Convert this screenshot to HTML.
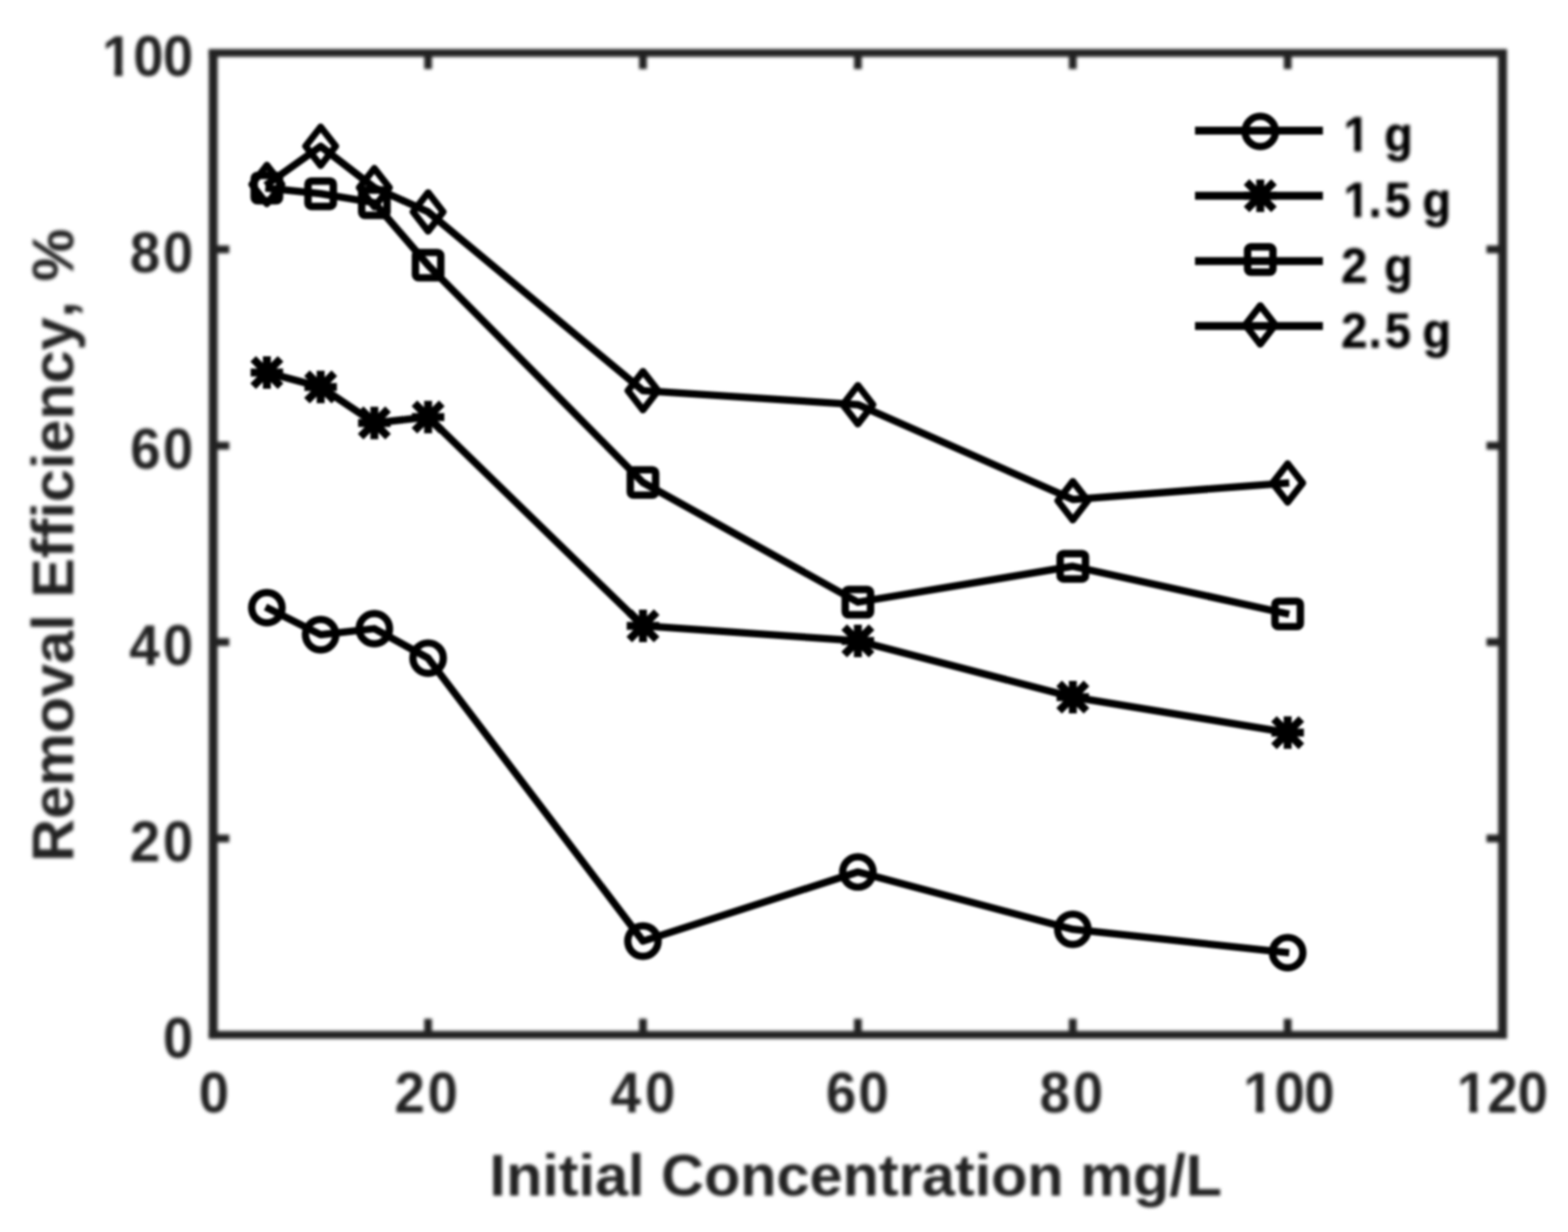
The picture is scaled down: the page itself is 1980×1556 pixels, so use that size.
<!DOCTYPE html>
<html lang="en">
<head>
<meta charset="utf-8">
<title>Removal Efficiency vs Initial Concentration</title>
<style>
html,body{margin:0;padding:0;background:#fff;}
body{width:1980px;height:1556px;overflow:hidden;}
svg{display:block;}
text{font-family:"Liberation Sans",sans-serif;font-weight:bold;}
.tk{font-size:73.1px;fill:#222222;}
.lb{font-size:75px;fill:#222222;}
.lg{font-size:63.2px;fill:#000;stroke:#000;stroke-width:0.6px;stroke-linejoin:round;}
</style>
</head>
<body>
<svg width="1980" height="1556" viewBox="0 0 1980 1556">
<defs>
<filter id="soft" x="0" y="0" width="1980" height="1556" filterUnits="userSpaceOnUse" color-interpolation-filters="sRGB"><feGaussianBlur stdDeviation="1.95"/></filter>
<filter id="crisp" x="0" y="0" width="1980" height="1556" filterUnits="userSpaceOnUse" color-interpolation-filters="sRGB"><feGaussianBlur stdDeviation="1.6"/></filter>
<filter id="softer" x="0" y="0" width="1980" height="1556" filterUnits="userSpaceOnUse" color-interpolation-filters="sRGB"><feGaussianBlur stdDeviation="2.0"/></filter>
</defs>
<rect width="1980" height="1556" fill="#fff"/>
<g filter="url(#soft)">
<g fill="#222222">
<rect x="263.60" y="62.00" width="11.2" height="1249.90"/>
<rect x="1891.80" y="62.00" width="11.2" height="1249.90"/>
<rect x="263.60" y="62.00" width="1639.40" height="9.8"/>
<rect x="263.60" y="1302.10" width="1639.40" height="9.8"/>
<rect x="535.67" y="66.90" width="9.8" height="20.3"/>
<rect x="535.67" y="1286.70" width="9.8" height="20.3"/>
<rect x="807.03" y="66.90" width="9.8" height="20.3"/>
<rect x="807.03" y="1286.70" width="9.8" height="20.3"/>
<rect x="1078.40" y="66.90" width="9.8" height="20.3"/>
<rect x="1078.40" y="1286.70" width="9.8" height="20.3"/>
<rect x="1349.77" y="66.90" width="9.8" height="20.3"/>
<rect x="1349.77" y="1286.70" width="9.8" height="20.3"/>
<rect x="1621.13" y="66.90" width="9.8" height="20.3"/>
<rect x="1621.13" y="1286.70" width="9.8" height="20.3"/>
<rect x="269.20" y="1054.08" width="20.3" height="9.8"/>
<rect x="1877.10" y="1054.08" width="20.3" height="9.8"/>
<rect x="269.20" y="806.06" width="20.3" height="9.8"/>
<rect x="1877.10" y="806.06" width="20.3" height="9.8"/>
<rect x="269.20" y="558.04" width="20.3" height="9.8"/>
<rect x="1877.10" y="558.04" width="20.3" height="9.8"/>
<rect x="269.20" y="310.02" width="20.3" height="9.8"/>
<rect x="1877.10" y="310.02" width="20.3" height="9.8"/>
</g>
</g>
<g filter="url(#crisp)">
<polyline points="335.3,766.6 404.9,801.6 472.7,794.0 540.6,831.2 811.9,1188.6 1083.3,1101.3 1354.7,1173.7 1628.0,1203.4" fill="none" stroke="#000" stroke-width="9.3" stroke-linejoin="round"/>
<circle cx="337.0" cy="767.5" r="19.2" fill="none" stroke="#000" stroke-width="9.2"/>
<circle cx="404.9" cy="801.6" r="19.2" fill="none" stroke="#000" stroke-width="9.2"/>
<circle cx="472.7" cy="794.0" r="19.2" fill="none" stroke="#000" stroke-width="9.2"/>
<circle cx="540.6" cy="831.2" r="19.2" fill="none" stroke="#000" stroke-width="9.2"/>
<circle cx="811.9" cy="1188.6" r="19.2" fill="none" stroke="#000" stroke-width="9.2"/>
<circle cx="1083.3" cy="1101.3" r="19.2" fill="none" stroke="#000" stroke-width="9.2"/>
<circle cx="1354.7" cy="1173.7" r="19.2" fill="none" stroke="#000" stroke-width="9.2"/>
<circle cx="1626.0" cy="1203.2" r="19.2" fill="none" stroke="#000" stroke-width="9.2"/>
<polyline points="335.1,470.0 404.9,488.7 472.7,534.2 540.6,526.7 811.9,790.4 1083.3,809.4 1354.7,880.4 1628.0,925.6" fill="none" stroke="#000" stroke-width="9.3" stroke-linejoin="round"/>
<path d="M316.5 470.5H357.5M337.0 450.0V491.0M319.7 453.2L354.3 487.8M319.7 487.8L354.3 453.2" fill="none" stroke="#000" stroke-width="10"/>
<path d="M384.4 488.7H425.4M404.9 468.2V509.2M387.6 471.4L422.2 506.0M387.6 506.0L422.2 471.4" fill="none" stroke="#000" stroke-width="10"/>
<path d="M452.2 534.2H493.2M472.7 513.7V554.7M455.4 516.9L490.0 551.5M455.4 551.5L490.0 516.9" fill="none" stroke="#000" stroke-width="10"/>
<path d="M520.1 526.7H561.1M540.6 506.2V547.2M523.3 509.4L557.9 544.0M523.3 544.0L557.9 509.4" fill="none" stroke="#000" stroke-width="10"/>
<path d="M791.4 790.4H832.4M811.9 769.9V810.9M794.6 773.1L829.2 807.7M794.6 807.7L829.2 773.1" fill="none" stroke="#000" stroke-width="10"/>
<path d="M1062.8 809.4H1103.8M1083.3 788.9V829.9M1066.0 792.1L1100.6 826.7M1066.0 826.7L1100.6 792.1" fill="none" stroke="#000" stroke-width="10"/>
<path d="M1334.2 880.4H1375.2M1354.7 859.9V900.9M1337.4 863.1L1372.0 897.7M1337.4 897.7L1372.0 863.1" fill="none" stroke="#000" stroke-width="10"/>
<path d="M1605.5 925.3H1646.5M1626.0 904.8V945.8M1608.7 908.0L1643.3 942.6M1608.7 942.6L1643.3 908.0" fill="none" stroke="#000" stroke-width="10"/>
<polyline points="335.1,237.3 404.9,244.7 472.7,256.0 540.6,334.9 811.9,609.4 1083.3,760.5 1354.7,715.2 1628.0,775.8" fill="none" stroke="#000" stroke-width="9.3" stroke-linejoin="round"/>
<rect x="321.0" y="221.5" width="32.0" height="32.0" rx="4" fill="none" stroke="#000" stroke-width="9.4" stroke-linejoin="round"/>
<rect x="388.9" y="228.7" width="32.0" height="32.0" rx="4" fill="none" stroke="#000" stroke-width="9.4" stroke-linejoin="round"/>
<rect x="456.7" y="240.0" width="32.0" height="32.0" rx="4" fill="none" stroke="#000" stroke-width="9.4" stroke-linejoin="round"/>
<rect x="524.6" y="318.9" width="32.0" height="32.0" rx="4" fill="none" stroke="#000" stroke-width="9.4" stroke-linejoin="round"/>
<rect x="795.9" y="593.4" width="32.0" height="32.0" rx="4" fill="none" stroke="#000" stroke-width="9.4" stroke-linejoin="round"/>
<rect x="1067.3" y="744.5" width="32.0" height="32.0" rx="4" fill="none" stroke="#000" stroke-width="9.4" stroke-linejoin="round"/>
<rect x="1338.7" y="699.2" width="32.0" height="32.0" rx="4" fill="none" stroke="#000" stroke-width="9.4" stroke-linejoin="round"/>
<rect x="1610.0" y="759.4" width="32.0" height="32.0" rx="4" fill="none" stroke="#000" stroke-width="9.4" stroke-linejoin="round"/>
<polyline points="335.4,234.2 404.9,184.7 472.7,237.0 540.6,267.6 811.9,493.4 1083.3,511.1 1354.7,630.8 1628.0,609.8" fill="none" stroke="#000" stroke-width="9.3" stroke-linejoin="round"/>
<path d="M337.0 208.6L356.0 233.0L337.0 257.4L318.0 233.0Z" fill="none" stroke="#000" stroke-width="8.6" stroke-linejoin="round"/>
<path d="M404.9 160.3L423.9 184.7L404.9 209.1L385.9 184.7Z" fill="none" stroke="#000" stroke-width="8.6" stroke-linejoin="round"/>
<path d="M472.7 212.6L491.7 237.0L472.7 261.4L453.7 237.0Z" fill="none" stroke="#000" stroke-width="8.6" stroke-linejoin="round"/>
<path d="M540.6 243.2L559.6 267.6L540.6 292.0L521.6 267.6Z" fill="none" stroke="#000" stroke-width="8.6" stroke-linejoin="round"/>
<path d="M811.9 469.0L830.9 493.4L811.9 517.8L792.9 493.4Z" fill="none" stroke="#000" stroke-width="8.6" stroke-linejoin="round"/>
<path d="M1083.3 486.7L1102.3 511.1L1083.3 535.5L1064.3 511.1Z" fill="none" stroke="#000" stroke-width="8.6" stroke-linejoin="round"/>
<path d="M1354.7 608.0L1373.7 632.4L1354.7 656.8L1335.7 632.4Z" fill="none" stroke="#000" stroke-width="8.6" stroke-linejoin="round"/>
<path d="M1626.0 585.6L1645.0 610.0L1626.0 634.4L1607.0 610.0Z" fill="none" stroke="#000" stroke-width="8.6" stroke-linejoin="round"/>
<line x1="1509.0" y1="165.0" x2="1670.5" y2="165.0" stroke="#000" stroke-width="9.9"/>
<circle cx="1591.4" cy="166.0" r="19.2" fill="none" stroke="#000" stroke-width="9.2"/>
<line x1="1509.0" y1="247.2" x2="1670.5" y2="247.2" stroke="#000" stroke-width="9.9"/>
<path d="M1570.9 247.2H1611.9M1591.4 226.7V267.7M1574.1 229.9L1608.7 264.5M1574.1 264.5L1608.7 229.9" fill="none" stroke="#000" stroke-width="10"/>
<line x1="1509.0" y1="329.7" x2="1670.5" y2="329.7" stroke="#000" stroke-width="9.9"/>
<rect x="1575.4" y="311.8" width="32.0" height="32.0" rx="4" fill="none" stroke="#000" stroke-width="9.4" stroke-linejoin="round"/>
<line x1="1509.0" y1="411.7" x2="1670.5" y2="411.7" stroke="#000" stroke-width="9.9"/>
<path d="M1591.4 386.0L1610.4 410.4L1591.4 434.8L1572.4 410.4Z" fill="none" stroke="#000" stroke-width="8.6" stroke-linejoin="round"/>
</g>
<g filter="url(#softer)">
<text class="tk" transform="scale(0.94 1)" x="267.0" y="1405.1">0</text>
<text class="tk" transform="scale(0.94 1)" x="530.1 574.6" y="1405.1">20</text>
<text class="tk" transform="scale(0.94 1)" x="820.2 866.6" y="1405.1">40</text>
<text class="tk" transform="scale(0.94 1)" x="1109.7 1153.2" y="1405.1">60</text>
<text class="tk" transform="scale(0.94 1)" x="1396.5 1441.1" y="1405.1">80</text>
<text class="tk" transform="scale(0.94 1)" x="1670.3 1712.3 1752.2" y="1405.1">100</text><rect x="1570.5" y="1392.7" width="15.3" height="15.4" fill="#fff"/><rect x="1595.8" y="1392.7" width="13.1" height="15.4" fill="#fff"/>
<text class="tk" transform="scale(0.94 1)" x="1957.3 1998.2 2038.8" y="1405.1">120</text><rect x="1840.3" y="1392.7" width="15.3" height="15.4" fill="#fff"/><rect x="1865.6" y="1392.7" width="13.1" height="15.4" fill="#fff"/>
<text class="tk" transform="scale(0.94 1)" x="219.0" y="1335.7">0</text>
<text class="tk" transform="scale(0.94 1)" x="174.5 219.0" y="1087.7">20</text>
<text class="tk" transform="scale(0.94 1)" x="173.6 219.0" y="839.7">40</text>
<text class="tk" transform="scale(0.94 1)" x="174.9 219.0" y="591.6">60</text>
<text class="tk" transform="scale(0.94 1)" x="174.5 219.0" y="343.6">80</text>
<text class="tk" transform="scale(0.94 1)" x="137.2 178.9 219.0" y="95.6">100</text><rect x="129.4" y="83.2" width="15.3" height="15.4" fill="#fff"/><rect x="154.7" y="83.2" width="13.1" height="15.4" fill="#fff"/>
<text class="lb" x="1080.6" y="1510.4" text-anchor="middle">Initial Concentration mg/L</text>
<text class="lb" transform="translate(92.5 1088.5) rotate(-90)">Removal Efficiency<tspan dx="5">,</tspan><tspan dx="4"> %</tspan></text>
<text class="lg" transform="scale(0.935 1)" x="1814.6 1852.2 1869.5" y="190.6">1 g</text><rect x="1696.9" y="179.9" width="13.3" height="13.7" fill="#fff"/><rect x="1718.9" y="179.9" width="11.2" height="13.7" fill="#fff"/>
<text class="lg" transform="scale(0.935 1)" x="1814.6 1848.4 1870.4 1904.6 1921.0" y="273.6">1.5 g</text><rect x="1696.9" y="262.9" width="13.3" height="13.7" fill="#fff"/><rect x="1718.9" y="262.9" width="11.2" height="13.7" fill="#fff"/>
<text class="lg" transform="scale(0.935 1)" x="1811.6 1852.2 1869.5" y="356.7">2 g</text>
<text class="lg" transform="scale(0.935 1)" x="1811.6 1848.4 1870.4 1904.6 1921.0" y="439.2">2.5 g</text>
</g>
</svg>
</body>
</html>
